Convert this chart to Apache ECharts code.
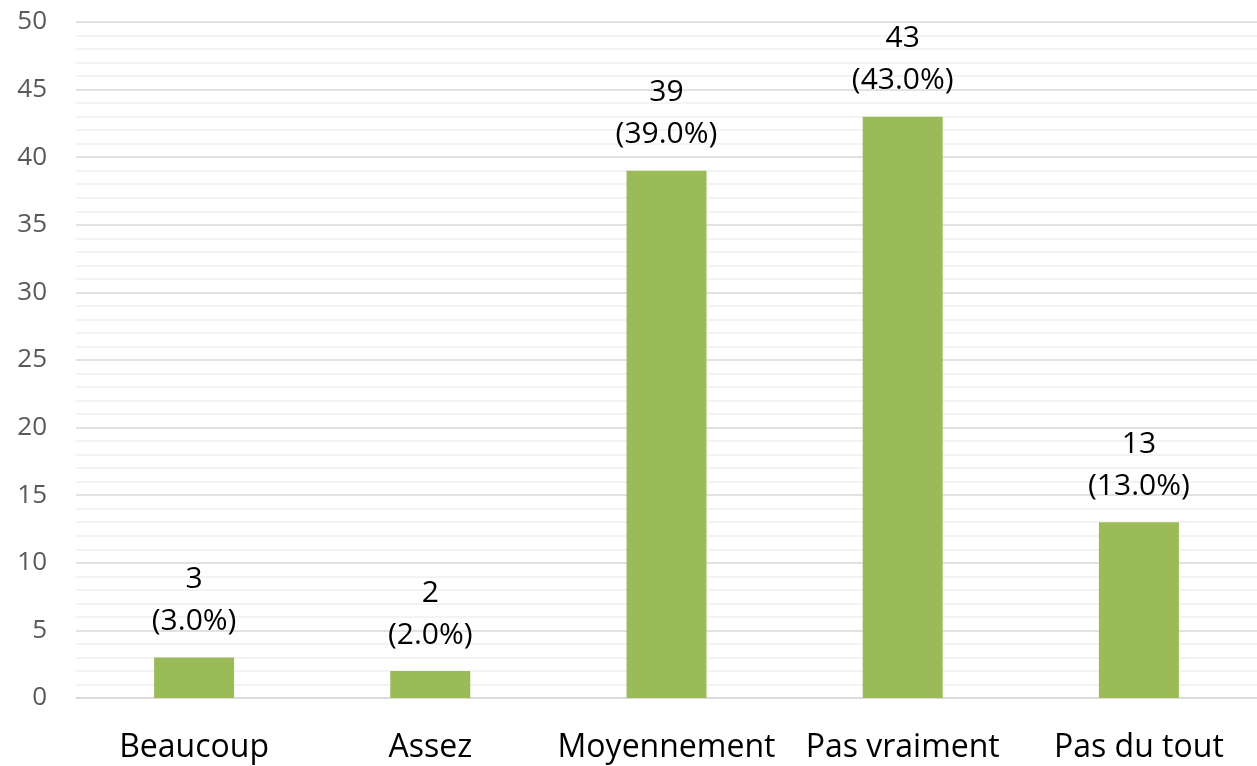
<!DOCTYPE html>
<html>
<head>
<meta charset="utf-8">
<script src="https://cdn.jsdelivr.net/npm/echarts@6/dist/echarts.min.js"></script>
<style>
html,body{margin:0;padding:0;background:#fff;}
#chart{width:1257px;height:766px;}
</style>
</head>
<body>
<div id="chart"></div>
<script>
const categories = ["Beaucoup", "Assez", "Moyennement", "Pas vraiment", "Pas du tout"];
const values = [3, 2, 39, 43, 13];
const yTicks = [0, 5, 10, 15, 20, 25, 30, 35, 40, 45, 50];

const total = values.reduce((a, b) => a + b, 0);
const chart = echarts.init(document.getElementById('chart'));
chart.setOption({
  animation: false,
  grid: { left: 76, right: 0, top: 22, bottom: 68, containLabel: false },
  xAxis: {
    type: 'category',
    data: categories,
    axisLine: { show: true, lineStyle: { color: '#d9d9d9', width: 1.5 } },
    axisTick: { show: false },
    axisLabel: { color: '#000', fontSize: 32, fontFamily: 'Open Sans', margin: 34, interval: 0, hideOverlap: false }
  },
  yAxis: {
    type: 'value',
    min: yTicks[0],
    max: yTicks[yTicks.length - 1],
    interval: 5,
    axisLine: { show: false },
    axisTick: { show: false },
    axisLabel: { color: '#595959', fontSize: 26, fontFamily: 'Open Sans', margin: 29 },
    splitLine: { show: true, lineStyle: { color: '#d9d9d9', width: 1.5 } },
    minorTick: { show: false, splitNumber: 5 },
    minorSplitLine: { show: true, lineStyle: { color: '#f0f0f0', width: 1.5 } }
  },
  series: [{
    type: 'bar',
    data: values,
    barWidth: 80,
    itemStyle: { color: '#9bbb59' },
    label: {
      show: true,
      position: 'top',
      distance: 15,
      color: '#000',
      fontSize: 30,
      fontFamily: 'Open Sans',
      lineHeight: 42,
      formatter: p => p.value + '\n(' + (p.value / total * 100).toFixed(1) + '%)'
    }
  }]
});
</script>
</body>
</html>
